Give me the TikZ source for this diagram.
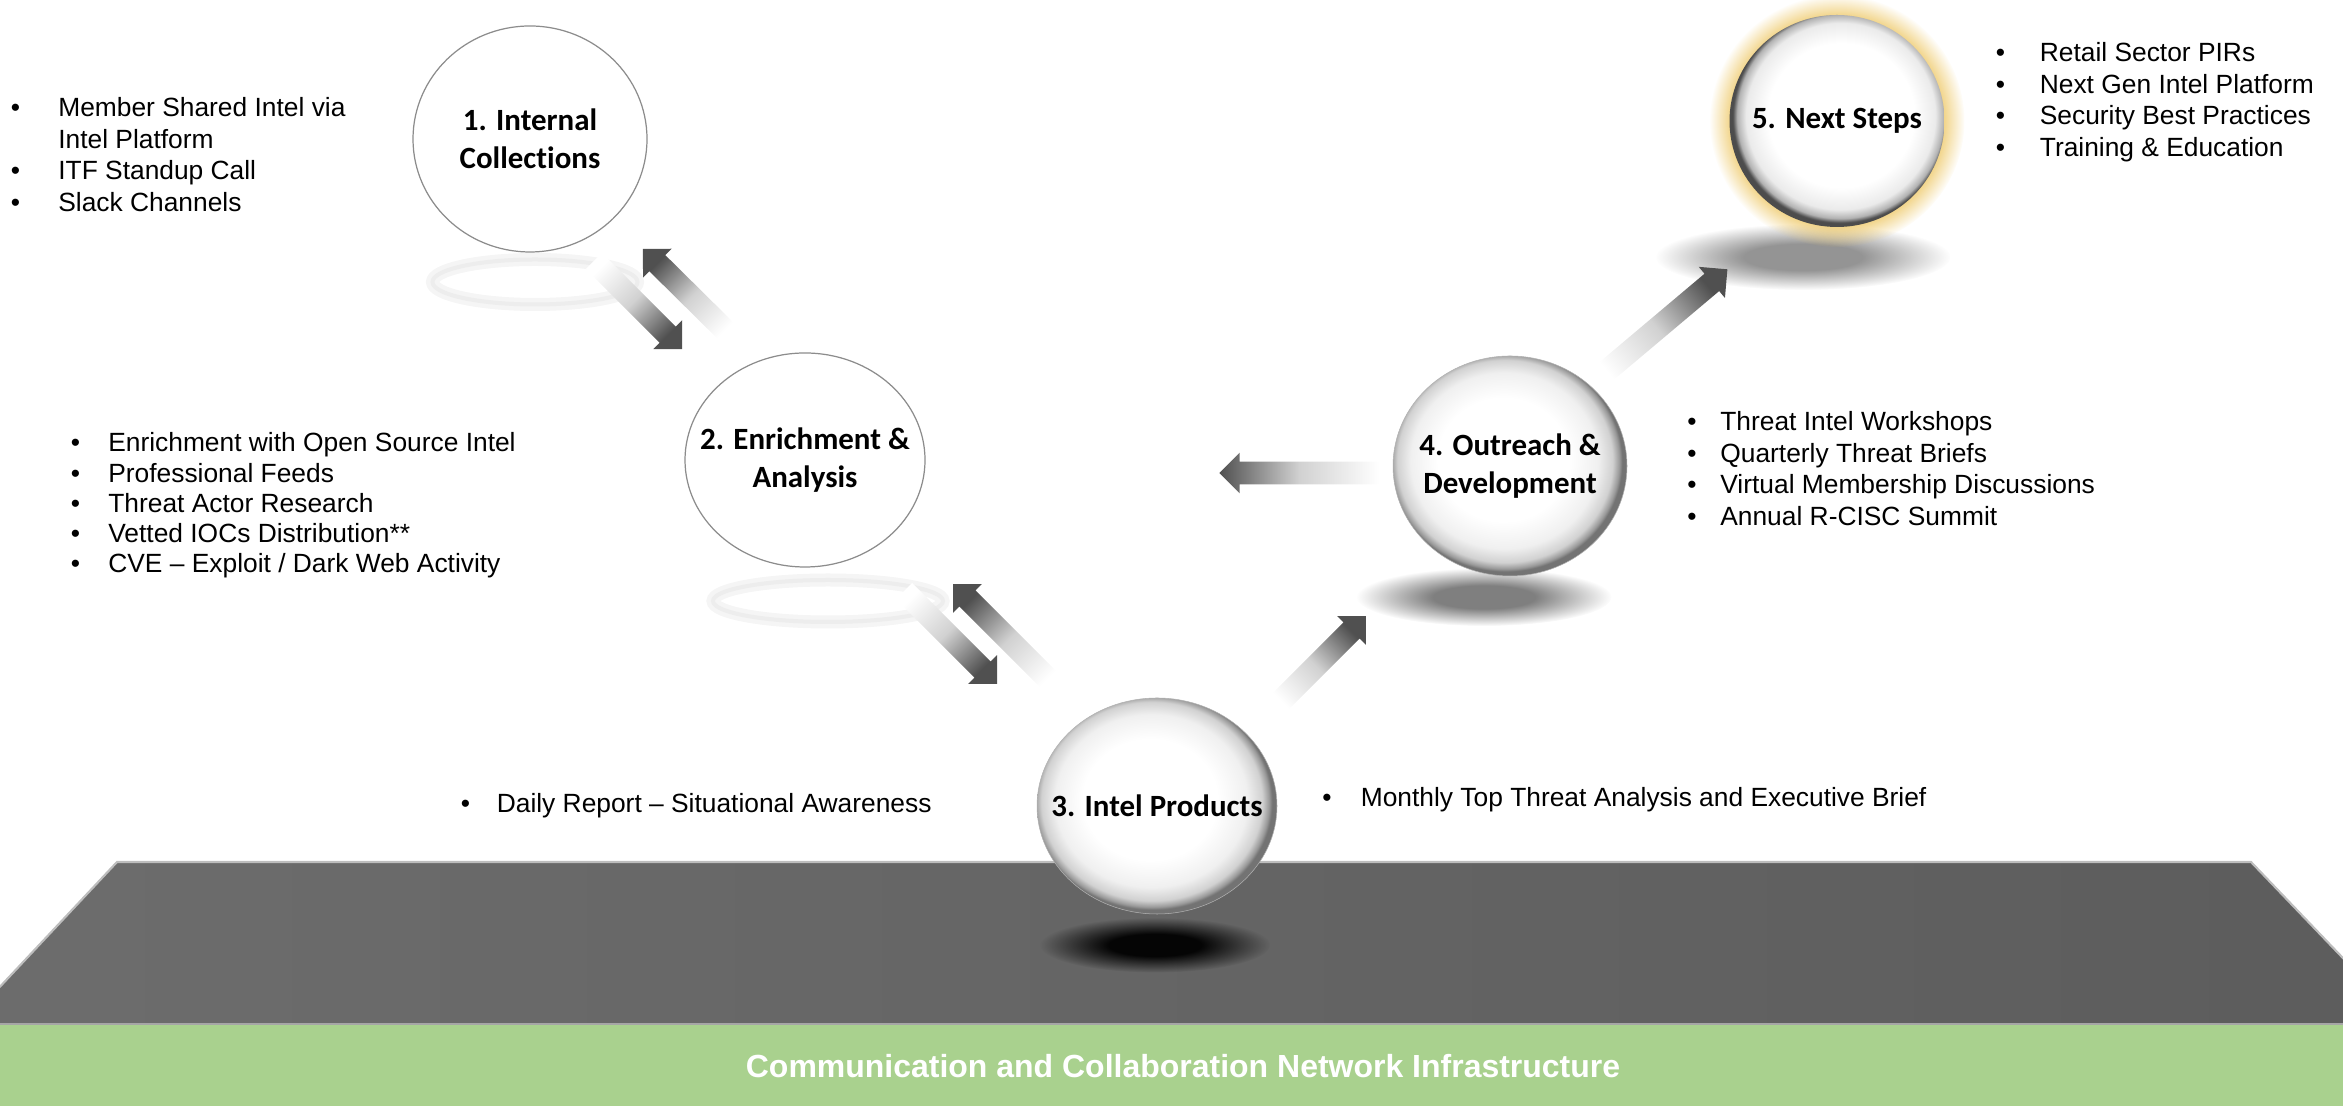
\documentclass[tikz,border=0pt]{standalone}
\usepackage{fontspec}
\setmainfont{Liberation Sans}
\newfontfamily\ballfont[Ligatures=NoCommon]{Carlito}
\usetikzlibrary{positioning,shapes.geometric,shapes.arrows,fadings}
\definecolor{leaf}{HTML}{A9D18E}
\definecolor{slab}{HTML}{606060}
\definecolor{slabedge}{HTML}{BDBDBD}
\definecolor{glow}{HTML}{EFCC72}
\definecolor{arrowdark}{HTML}{505050}

\pgfdeclareradialshading{glossy}{\pgfpoint{-2bp}{2bp}}{%
  color(0bp)=(white); color(14bp)=(white); color(20bp)=(black!6);
  color(23bp)=(black!18); color(24.4bp)=(black!40); color(25bp)=(black!55);
  color(50bp)=(black!55)}
\pgfdeclareradialshading{rimmed}{\pgfpoint{1.5bp}{2bp}}{%
  color(0bp)=(white); color(17bp)=(white); color(22bp)=(black!8);
  color(24bp)=(black!30); color(25bp)=(black!70); color(50bp)=(black!70)}
\pgfdeclareradialshading{blobshade}{\pgfpointorigin}{%
  color(0bp)=(pgftransparent!0); color(10bp)=(pgftransparent!0);
  color(25bp)=(pgftransparent!100); color(50bp)=(pgftransparent!100)}
\pgfdeclarefading{blobfade}{\pgfuseshading{blobshade}}
\pgfdeclareradialshading{ringshade}{\pgfpointorigin}{%
  color(0bp)=(pgftransparent!0); color(20bp)=(pgftransparent!0);
  color(25bp)=(pgftransparent!100); color(50bp)=(pgftransparent!100)}
\pgfdeclarefading{glowfade}{\pgfuseshading{ringshade}}

\newcommand{\bulletrows}[2]{\begin{tabular}[t]{@{}p{#1}@{}l@{}}#2\end{tabular}}

\tikzset{
  plainball/.style={ellipse, fill=white, draw=black!45, line width=0.7pt,
    inner sep=0pt},
  glossball/.style={ellipse, shading=glossy, draw=black!30, line width=0.3pt,
    inner sep=0pt},
  goalball/.style={ellipse, shading=rimmed, inner sep=0pt},
  balltext/.style={font=\ballfont\bfseries\fontsize{17.6pt}{21.6pt}\selectfont,
    align=center, inner sep=0pt},
  dotlist/.style={font=\fontsize{15pt}{#1}\selectfont, anchor=base west,
    inner sep=0pt},
  dotlist/.default=17.9pt,
  fatarrow/.style={single arrow, single arrow head extend=0.18cm,
    single arrow tip angle=90, inner xsep=0pt, inner ysep=0.22cm,
    sloped, allow upside down,
    top color=arrowdark, bottom color=white, middle color=black!18,
    shading angle=#1},
  shadowblob/.style={fill=black, fill opacity=#1, path fading=blobfade},
  bandtext/.style={text=white, font=\bfseries\fontsize{18.2pt}{22pt}\selectfont,
    inner sep=0pt},
}

\begin{document}
\begin{tikzpicture}
  \useasboundingbox (0,0) rectangle (46.86,22.12);
  \clip (0,0) rectangle (46.86,22.12);

  % floor slab and the band under it
  \shade[left color=slab!92!white, right color=slab!96!black]
    (2.34,4.88) -- (45.02,4.88) -- (48.12,1.64) -- (-0.70,1.64) -- cycle;
  \draw[slabedge, line width=1.2pt]
    (-0.70,1.64) -- (2.34,4.88) -- (45.02,4.88) -- (48.12,1.64);
  \draw[black!35, line width=1pt] (0,1.64) -- (46.86,1.64);
  \fill[leaf] (0,0) rectangle (46.86,1.62);
  \node[bandtext] (infra) at (23.66,0.80)
    {Communication and Collaboration Network Infrastructure};

  % shadows and reflections
  \fill[shadowblob=0.95] (23.10,3.22) ellipse [x radius=2.3cm, y radius=0.55cm];
  \fill[shadowblob=0.5] (29.68,10.18) ellipse [x radius=2.55cm, y radius=0.58cm];
  \fill[shadowblob=0.42] (36.06,16.98) ellipse [x radius=2.95cm, y radius=0.66cm];
  \draw[black!4, line width=0.26cm] (10.70,16.48) ellipse [x radius=2.05cm, y radius=0.45cm];
  \draw[black!7, line width=0.08cm] (10.70,16.48) ellipse [x radius=2.05cm, y radius=0.45cm];
  \draw[black!4, line width=0.26cm] (16.56,10.10) ellipse [x radius=2.3cm, y radius=0.42cm];
  \draw[black!7, line width=0.08cm] (16.56,10.10) ellipse [x radius=2.3cm, y radius=0.42cm];

  % arrows between the steps
  \coordinate (t12) at (11.80,16.98); \coordinate (h12) at (13.56,15.22);
  \coordinate (t21) at (14.70,15.32); \coordinate (h21) at (12.94,17.06);
  \coordinate (t23) at (18.00,10.38); \coordinate (h23) at (19.86,8.52);
  \coordinate (t32) at (21.20,8.30);  \coordinate (h32) at (19.14,10.36);
  \coordinate (t34) at (25.40,7.88);  \coordinate (h34) at (27.24,9.72);
  \coordinate (t42) at (27.70,12.66); \coordinate (h42) at (24.50,12.66);
  \coordinate (t45) at (31.80,14.42); \coordinate (h45) at (34.46,16.66);
  \path (t12) -- node[fatarrow=-135, minimum height=2.49cm] (a12) {} (h12);
  \path (t21) -- node[fatarrow=45, minimum height=2.48cm] (a21) {} (h21);
  \path (t23) -- node[fatarrow=-135, minimum height=2.63cm] (a23) {} (h23);
  \path (t32) -- node[fatarrow=45, minimum height=2.91cm] (a32) {} (h32);
  \path (t34) -- node[fatarrow=-45, minimum height=2.60cm] (a34) {} (h34);
  \path (t42) -- node[fatarrow=90, minimum height=3.20cm] (a42) {} (h42);
  \path (t45) -- node[fatarrow=-50, minimum height=3.48cm] (a45) {} (h45);

  % the five steps
  \node[plainball, minimum width=4.68cm, minimum height=4.52cm] (collect) at (10.60,19.34) {};
  \node[plainball, minimum width=4.80cm, minimum height=4.28cm] (enrich) at (16.10,12.92) {};
  \node[glossball, minimum width=4.80cm, minimum height=4.32cm] (products) at (23.14,6.00) {};
  \node[glossball, minimum width=4.68cm, minimum height=4.40cm] (outreach) at (30.20,12.80) {};
  \fill[glow, path fading=glowfade] (36.74,19.70) ellipse [x radius=2.55cm, y radius=2.52cm];
  \node[goalball, minimum width=4.30cm, minimum height=4.24cm] (nextsteps) at (36.74,19.70) {};

  \node[balltext] (collect-l) at (collect) {1. Internal\\Collections};
  \node[balltext] (enrich-l) at (enrich) {2. Enrichment \&\\Analysis};
  \node[balltext] (products-l) at (products) {3. Intel Products};
  \node[balltext] (outreach-l) at (outreach) {4. Outreach \&\\Development};
  \node[balltext] (nextsteps-l) at (nextsteps) {5. Next Steps};

  % what goes into each step
  \node[dotlist] (collect-list) at (0.21,19.78) {\bulletrows{0.95cm}{%
    \textbullet & Member Shared Intel via\\
                & Intel Platform\\
    \textbullet & ITF Standup Call\\
    \textbullet & Slack Channels}};
  \node[dotlist=17.2pt] (enrich-list) at (1.41,13.08) {\bulletrows{0.75cm}{%
    \textbullet & Enrichment with Open Source Intel\\
    \textbullet & Professional Feeds\\
    \textbullet & Threat Actor Research\\
    \textbullet & Vetted IOCs Distribution**\\
    \textbullet & CVE -- Exploit / Dark Web Activity}};
  \node[dotlist] (daily-list) at (9.21,5.86) {\bulletrows{0.72cm}{%
    \textbullet & Daily Report -- Situational Awareness}};
  \node[dotlist] (monthly-list) at (26.44,5.98) {\bulletrows{0.77cm}{%
    \textbullet & Monthly Top Threat Analysis and Executive Brief}};
  \node[dotlist] (outreach-list) at (33.74,13.50) {\bulletrows{0.66cm}{%
    \textbullet & Threat Intel Workshops\\
    \textbullet & Quarterly Threat Briefs\\
    \textbullet & Virtual Membership Discussions\\
    \textbullet & Annual R-CISC Summit}};
  \node[dotlist] (nextsteps-list) at (39.91,20.88) {\bulletrows{0.88cm}{%
    \textbullet & Retail Sector PIRs\\
    \textbullet & Next Gen Intel Platform\\
    \textbullet & Security Best Practices\\
    \textbullet & Training \& Education}};
\end{tikzpicture}
\end{document}
